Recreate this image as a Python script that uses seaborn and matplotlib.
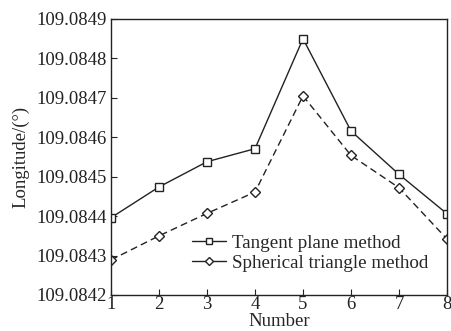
import matplotlib
matplotlib.use("Agg")
import matplotlib.pyplot as plt
import seaborn as sns
import pandas as pd
from matplotlib.lines import Line2D

# Data
number = [1, 2, 3, 4, 5, 6, 7, 8]
tangent = [109.084396, 109.084474, 109.084538, 109.084571, 109.084850, 109.084616, 109.084506, 109.084406]
spherical = [109.084289, 109.084350, 109.084407, 109.084461, 109.084705, 109.084554, 109.084472, 109.084342]
labels = ["Tangent plane method", "Spherical triangle method"]
y_ticks = [109.0842, 109.0843, 109.0844, 109.0845, 109.0846, 109.0847, 109.0848, 109.0849]

sns.set_style("ticks")
plt.rcParams["font.family"] = ["Liberation Serif", "DejaVu Serif"]
plt.rcParams["font.size"] = 13.5
plt.rcParams["xtick.direction"] = "in"
plt.rcParams["ytick.direction"] = "in"

df = pd.DataFrame({"Number": number, "tangent": tangent, "spherical": spherical})

fig = plt.figure(figsize=(4.52, 3.31), dpi=100)
ax = fig.add_axes([0.2456, 0.1088, 0.9889 - 0.2456, 0.9426 - 0.1088])

sns.lineplot(data=df, x="Number", y="tangent", ax=ax, color="#222222", linewidth=1.0,
             marker="s", markersize=5.5, markerfacecolor="white", markeredgecolor="#222222",
             markeredgewidth=1.0)
sns.lineplot(data=df, x="Number", y="spherical", ax=ax, color="#222222", linewidth=1.0,
             linestyle=(0, (5, 3)), marker="D", markersize=5, markerfacecolor="white",
             markeredgecolor="#222222", markeredgewidth=1.0)

ax.set_xlim(1, 8)
ax.set_ylim(109.0842, 109.0849)
ax.set_xticks(number)
ax.set_yticks(y_ticks)
ax.set_yticklabels([f"{v:.4f}" for v in y_ticks])
ax.tick_params(axis="both", length=4, width=0.8, labelsize=13.5, colors="#222222")
ax.tick_params(axis="x", pad=1)
ax.tick_params(axis="y", pad=3)
ax.set_xlabel("Number", fontsize=13.5, labelpad=0)
ax.set_ylabel("Longitude/(°)", fontsize=13.5, labelpad=5)
for s in ax.spines.values():
    s.set_color("#222222")
    s.set_linewidth(1.0)

handles = [
    Line2D([], [], color="#222222", lw=1.0, marker="s", markersize=5, markerfacecolor="white"),
    Line2D([], [], color="#222222", lw=1.0, marker="D", markersize=4.5, markerfacecolor="white"),
]
ax.legend(handles, labels, loc="lower right", bbox_to_anchor=(0.972, 0.05), frameon=False,
          fontsize=13.7, handlelength=1.8, handletextpad=0.3, labelspacing=0.15, borderpad=0)

fig.savefig("out.png", dpi=100)
